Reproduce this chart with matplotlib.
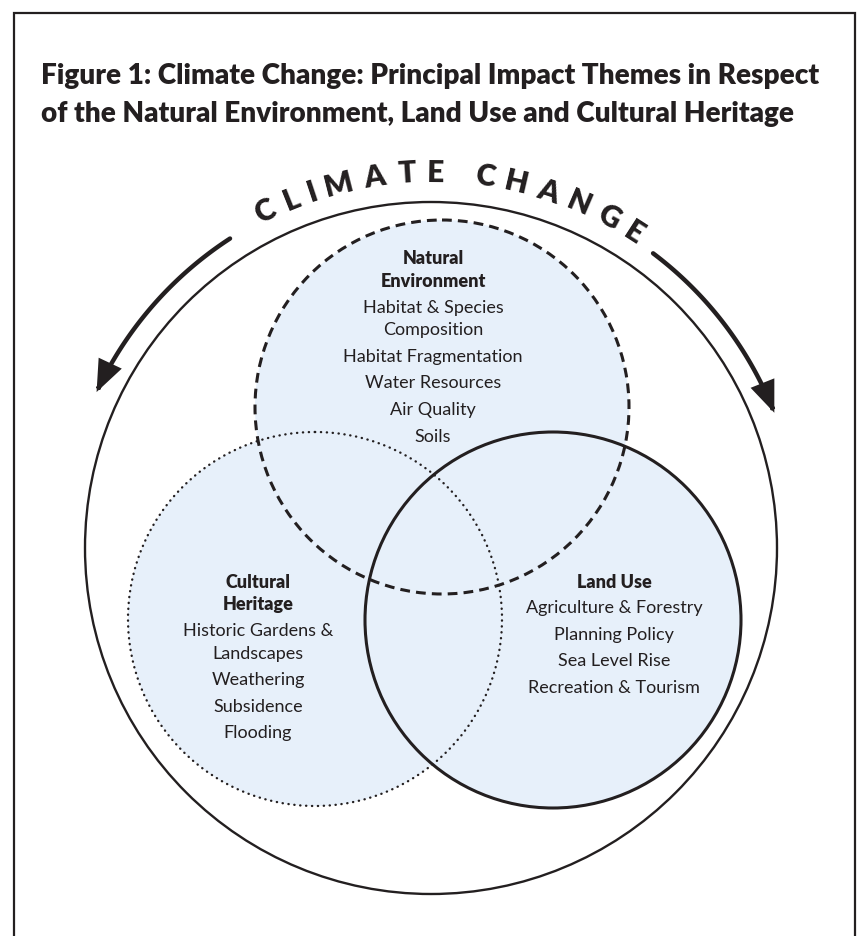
import numpy as np
import matplotlib.pyplot as plt
from matplotlib.patches import Circle, FancyArrowPatch
from matplotlib.path import Path
from matplotlib.textpath import TextPath
from matplotlib.font_manager import FontProperties

INK = '#231f20'
FILL = '#e7f0fa'

# texts of the figure
title_lines = ['Figure 1: Climate Change: Principal Impact Themes in Respect',
               'of the Natural Environment, Land Use and Cultural Heritage']
arc_title = 'CLIMATE CHANGE'

natural_head = ['Natural', 'Environment']
natural_items = [['Habitat & Species', 'Composition'], ['Habitat Fragmentation'],
                 ['Water Resources'], ['Air Quality'], ['Soils']]
heritage_head = ['Cultural', 'Heritage']
heritage_items = [['Historic Gardens &', 'Landscapes'], ['Weathering'],
                  ['Subsidence'], ['Flooding']]
landuse_head = ['Land Use']
landuse_items = [['Agriculture & Forestry'], ['Planning Policy'],
                 ['Sea Level Rise'], ['Recreation & Tourism']]

PX = 72 / 100  # pixel -> point

fig = plt.figure(figsize=(8.58, 9.36), dpi=100)
ax = fig.add_axes([0, 0, 1, 1])
ax.set_xlim(0, 858)
ax.set_ylim(936, 0)
ax.axis('off')

# frame (open at the bottom)
ax.plot([14, 14, 855, 855], [940, 13, 13, 940], color=INK, lw=1.6, solid_joinstyle='miter')

# title
for i, line in enumerate(title_lines):
    ax.text(41, 84 + i * 38, line, fontsize=20.1, family='Lato', weight='heavy',
            color=INK, ha='left', va='baseline')

# big circle
cx, cy, R = 431, 548, 346
ax.add_patch(Circle((cx, cy), R, fc='none', ec=INK, lw=1.7))

# three theme circles
circles = {
    'natural': ((442, 407), 187, (0, (3.2, 2.0)), 2.2),
    'heritage': ((315, 619), 187, (0, (0.1, 2.4)), 1.7),
    'landuse': ((553, 620), 188, 'solid', 2.2),
}
for (c, r, ls, lw) in circles.values():
    ax.add_patch(Circle(c, r, fc=FILL, ec='none', zorder=1))
for (c, r, ls, lw) in circles.values():
    p = Circle(c, r, fc='none', ec=INK, lw=lw, ls=ls, zorder=2)
    p.set_capstyle('round' if lw < 2 else 'butt')
    ax.add_patch(p)


def block(x, y0, head, items, step_in=22.5, step_out=26.5):
    y = y0
    for j, h in enumerate(head):
        if j:
            y += step_in
        ax.text(x, y, h, fontsize=13, family='Lato', weight='heavy', color=INK,
                ha='center', va='center', zorder=3)
    for it in items:
        y += step_out
        for k, t in enumerate(it):
            if k:
                y += step_in
            ax.text(x, y, t, fontsize=13, family='Lato', color=INK,
                    ha='center', va='center', zorder=3)


block(433, 259, natural_head, natural_items)
block(258, 582, heritage_head, heritage_items)
block(614, 582, landuse_head, landuse_items)

# CLIMATE CHANGE along an arc
fp = FontProperties(family='Lato', weight='heavy')
size_px = 30
rt = 375
a0, a1 = np.radians(116.2), np.radians(57.2)
widths = [TextPath((0, 0), ch, size=size_px, prop=fp).get_extents().width if ch != ' ' else 0
          for ch in arc_title]
space = 0.25 * size_px
inner = 0.0
ngaps = 0
for i in range(len(arc_title) - 1):
    if arc_title[i] == ' ':
        continue
    nxt = i + 1
    if arc_title[nxt] == ' ':
        inner += widths[i] / 2 + space + widths[nxt + 1] / 2
        ngaps += 2
    else:
        inner += widths[i] / 2 + widths[nxt] / 2
        ngaps += 1
track = (rt * (a0 - a1) - inner) / ngaps

ang = a0
prev = None
for i, ch in enumerate(arc_title):
    if ch == ' ':
        continue
    if prev is not None:
        if arc_title[i - 1] == ' ':
            d = widths[prev] / 2 + space + widths[i] / 2 + 2 * track
        else:
            d = widths[prev] / 2 + widths[i] / 2 + track
        ang -= d / rt
    x = cx + rt * np.cos(ang)
    y = cy - rt * np.sin(ang)
    ax.text(x, y, ch, fontsize=size_px * PX, family='Lato', weight='heavy', color=INK,
            ha='center', va='center', rotation=np.degrees(ang) - 90,
            rotation_mode='anchor')
    prev = i

# curved arrows on both sides
ra = 369
for start, end in [(123.0, 155.0), (53.0, 21.5)]:
    th = np.radians(np.linspace(start, end, 60))
    verts = np.column_stack([cx + ra * np.cos(th), cy - ra * np.sin(th)])
    arr = FancyArrowPatch(path=Path(verts), arrowstyle='-|>,head_length=0.95,head_width=0.38',
                          mutation_scale=18, lw=3.2, color=INK, joinstyle='miter')
    ax.add_patch(arr)

fig.savefig('out.png', dpi=100, facecolor='white')
